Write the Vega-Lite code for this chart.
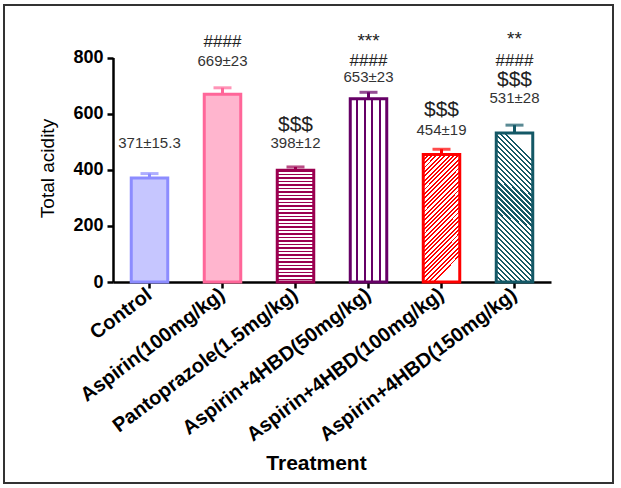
{
  "$schema": "https://vega.github.io/schema/vega-lite/v6.json",
  "width": 609,
  "height": 478,
  "autosize": {"type": "none"},
  "padding": {"left": 4, "top": 5, "right": 8, "bottom": 5},
  "background": "white",
  "config": {
    "view": {"stroke": "#333333", "strokeWidth": 2},
    "font": "Liberation Sans",
    "axis": {
      "grid": false,
      "domainColor": "black",
      "domainWidth": 2.5,
      "tickColor": "black",
      "tickWidth": 2.5,
      "tickSize": 6,
      "labelColor": "black",
      "titleColor": "black",
      "labelFont": "Liberation Sans",
      "titleFont": "Liberation Sans"
    },
    "axisY": {
      "offset": -109,
      "tickCount": 4,
      "labelFontSize": 18,
      "labelFontWeight": "bold",
      "labelPadding": 4,
      "titleFontSize": 19,
      "titleFontWeight": "normal",
      "titleX": -66,
      "titleY": 163,
      "titleAlign": "center",
      "titleBaseline": "middle",
      "titleAngle": -90
    },
    "axisX": {
      "offset": -201,
      "labelFontSize": 20,
      "labelFontWeight": "bold",
      "labelAngle": -37,
      "labelAlign": "right",
      "labelBaseline": "middle",
      "labelPadding": 4,
      "labelLimit": 400,
      "labelOverlap": false,
      "titleFontSize": 21,
      "titleFontWeight": "bold",
      "titleX": 312,
      "titleY": 181,
      "titleAlign": "center",
      "titleBaseline": "middle"
    }
  },
  "datasets": {
    "main": [
      {"t": "Control", "mean": 371, "sem": 15.3},
      {"t": "Aspirin(100mg/kg)", "mean": 669, "sem": 23},
      {"t": "Pantoprazole(1.5mg/kg)", "mean": 398, "sem": 12},
      {"t": "Aspirin+4HBD(50mg/kg)", "mean": 653, "sem": 23},
      {"t": "Aspirin+4HBD(100mg/kg)", "mean": 454, "sem": 19},
      {"t": "Aspirin+4HBD(150mg/kg)", "mean": 531, "sem": 28}
    ],
    "ann": [
      {"t": "Control", "text": "371±15.3", "kind": "val", "v": 495},
      {"t": "Aspirin(100mg/kg)", "text": "####", "kind": "hash", "v": 855},
      {"t": "Aspirin(100mg/kg)", "text": "669±23", "kind": "val", "v": 789},
      {"t": "Pantoprazole(1.5mg/kg)", "text": "$$$", "kind": "dollar", "v": 561},
      {"t": "Pantoprazole(1.5mg/kg)", "text": "398±12", "kind": "val", "v": 495},
      {"t": "Aspirin+4HBD(50mg/kg)", "text": "***", "kind": "star", "v": 860},
      {"t": "Aspirin+4HBD(50mg/kg)", "text": "####", "kind": "hash", "v": 787},
      {"t": "Aspirin+4HBD(50mg/kg)", "text": "653±23", "kind": "val", "v": 729},
      {"t": "Aspirin+4HBD(100mg/kg)", "text": "$$$", "kind": "dollar", "v": 613},
      {"t": "Aspirin+4HBD(100mg/kg)", "text": "454±19", "kind": "val", "v": 543},
      {"t": "Aspirin+4HBD(150mg/kg)", "text": "**", "kind": "star", "v": 865},
      {"t": "Aspirin+4HBD(150mg/kg)", "text": "####", "kind": "hash", "v": 787},
      {"t": "Aspirin+4HBD(150mg/kg)", "text": "$$$", "kind": "dollar", "v": 720},
      {"t": "Aspirin+4HBD(150mg/kg)", "text": "531±28", "kind": "val", "v": 656}
    ]
  },
  "data": {"name": "main"},
  "encoding": {
    "x": {
      "field": "t",
      "type": "nominal",
      "title": "Treatment",
      "sort": null,
      "scale": {
        "domain": ["Control", "Aspirin(100mg/kg)", "Pantoprazole(1.5mg/kg)", "Aspirin+4HBD(50mg/kg)", "Aspirin+4HBD(100mg/kg)", "Aspirin+4HBD(150mg/kg)"],
        "range": [109, 547],
        "paddingInner": 0.5,
        "paddingOuter": 0.25
      }
    }
  },
  "layer": [
    {
      "mark": {"type": "errorbar", "thickness": 3, "ticks": {"size": 18}},
      "encoding": {
        "y": {"field": "mean", "type": "quantitative", "title": "Total acidity", "scale": {"domain": [0, 800], "range": [277, 52.5], "nice": false, "zero": true}},
        "yError": {"field": "sem"},
        "color": {
          "field": "t",
          "type": "nominal",
          "legend": null,
          "scale": {
            "domain": ["Control", "Aspirin(100mg/kg)", "Pantoprazole(1.5mg/kg)", "Aspirin+4HBD(50mg/kg)", "Aspirin+4HBD(100mg/kg)", "Aspirin+4HBD(150mg/kg)"],
            "range": ["#8C8CFF", "#FF6699", "#9B0050", "#660066", "#FF0000", "#145866"]
          }
        }
      }
    },
    {
      "mark": {"type": "bar", "strokeWidth": 3},
      "encoding": {
        "y": {"field": "mean", "type": "quantitative", "title": "Total acidity", "scale": {"domain": [0, 800], "range": [277, 52.5], "nice": false, "zero": true}},
        "stroke": {
          "field": "t",
          "type": "nominal",
          "legend": null,
          "scale": {
            "domain": ["Control", "Aspirin(100mg/kg)", "Pantoprazole(1.5mg/kg)", "Aspirin+4HBD(50mg/kg)", "Aspirin+4HBD(100mg/kg)", "Aspirin+4HBD(150mg/kg)"],
            "range": ["#8C8CFF", "#FF6699", "#9B0050", "#660066", "#FF0000", "#145866"]
          }
        },
        "fill": {
          "condition": [
            {"test": "datum.t === 'Control'", "value": "#C6C6FF"},
            {"test": "datum.t === 'Aspirin(100mg/kg)'", "value": "#FFB5CE"},
            {"test": "datum.t === 'Pantoprazole(1.5mg/kg)'", "value": {"gradient": "linear", "x1": 0, "y1": 0, "x2": 0, "y2": 1, "stops": [
              {"offset": 0, "color": "#9B0050"}, {"offset": 0.014, "color": "#9B0050"}, {"offset": 0.014, "color": "#ffffff"}, {"offset": 0.03125, "color": "#ffffff"},
              {"offset": 0.03125, "color": "#9B0050"}, {"offset": 0.04525, "color": "#9B0050"}, {"offset": 0.04525, "color": "#ffffff"}, {"offset": 0.0625, "color": "#ffffff"},
              {"offset": 0.0625, "color": "#9B0050"}, {"offset": 0.0765, "color": "#9B0050"}, {"offset": 0.0765, "color": "#ffffff"}, {"offset": 0.09375, "color": "#ffffff"},
              {"offset": 0.09375, "color": "#9B0050"}, {"offset": 0.10775, "color": "#9B0050"}, {"offset": 0.10775, "color": "#ffffff"}, {"offset": 0.125, "color": "#ffffff"},
              {"offset": 0.125, "color": "#9B0050"}, {"offset": 0.139, "color": "#9B0050"}, {"offset": 0.139, "color": "#ffffff"}, {"offset": 0.15625, "color": "#ffffff"},
              {"offset": 0.15625, "color": "#9B0050"}, {"offset": 0.17025, "color": "#9B0050"}, {"offset": 0.17025, "color": "#ffffff"}, {"offset": 0.1875, "color": "#ffffff"},
              {"offset": 0.1875, "color": "#9B0050"}, {"offset": 0.2015, "color": "#9B0050"}, {"offset": 0.2015, "color": "#ffffff"}, {"offset": 0.21875, "color": "#ffffff"},
              {"offset": 0.21875, "color": "#9B0050"}, {"offset": 0.23275, "color": "#9B0050"}, {"offset": 0.23275, "color": "#ffffff"}, {"offset": 0.25, "color": "#ffffff"},
              {"offset": 0.25, "color": "#9B0050"}, {"offset": 0.264, "color": "#9B0050"}, {"offset": 0.264, "color": "#ffffff"}, {"offset": 0.28125, "color": "#ffffff"},
              {"offset": 0.28125, "color": "#9B0050"}, {"offset": 0.29525, "color": "#9B0050"}, {"offset": 0.29525, "color": "#ffffff"}, {"offset": 0.3125, "color": "#ffffff"},
              {"offset": 0.3125, "color": "#9B0050"}, {"offset": 0.3265, "color": "#9B0050"}, {"offset": 0.3265, "color": "#ffffff"}, {"offset": 0.34375, "color": "#ffffff"},
              {"offset": 0.34375, "color": "#9B0050"}, {"offset": 0.35775, "color": "#9B0050"}, {"offset": 0.35775, "color": "#ffffff"}, {"offset": 0.375, "color": "#ffffff"},
              {"offset": 0.375, "color": "#9B0050"}, {"offset": 0.389, "color": "#9B0050"}, {"offset": 0.389, "color": "#ffffff"}, {"offset": 0.40625, "color": "#ffffff"},
              {"offset": 0.40625, "color": "#9B0050"}, {"offset": 0.42025, "color": "#9B0050"}, {"offset": 0.42025, "color": "#ffffff"}, {"offset": 0.4375, "color": "#ffffff"},
              {"offset": 0.4375, "color": "#9B0050"}, {"offset": 0.4515, "color": "#9B0050"}, {"offset": 0.4515, "color": "#ffffff"}, {"offset": 0.46875, "color": "#ffffff"},
              {"offset": 0.46875, "color": "#9B0050"}, {"offset": 0.48275, "color": "#9B0050"}, {"offset": 0.48275, "color": "#ffffff"}, {"offset": 0.5, "color": "#ffffff"},
              {"offset": 0.5, "color": "#9B0050"}, {"offset": 0.514, "color": "#9B0050"}, {"offset": 0.514, "color": "#ffffff"}, {"offset": 0.53125, "color": "#ffffff"},
              {"offset": 0.53125, "color": "#9B0050"}, {"offset": 0.54525, "color": "#9B0050"}, {"offset": 0.54525, "color": "#ffffff"}, {"offset": 0.5625, "color": "#ffffff"},
              {"offset": 0.5625, "color": "#9B0050"}, {"offset": 0.5765, "color": "#9B0050"}, {"offset": 0.5765, "color": "#ffffff"}, {"offset": 0.59375, "color": "#ffffff"},
              {"offset": 0.59375, "color": "#9B0050"}, {"offset": 0.60775, "color": "#9B0050"}, {"offset": 0.60775, "color": "#ffffff"}, {"offset": 0.625, "color": "#ffffff"},
              {"offset": 0.625, "color": "#9B0050"}, {"offset": 0.639, "color": "#9B0050"}, {"offset": 0.639, "color": "#ffffff"}, {"offset": 0.65625, "color": "#ffffff"},
              {"offset": 0.65625, "color": "#9B0050"}, {"offset": 0.67025, "color": "#9B0050"}, {"offset": 0.67025, "color": "#ffffff"}, {"offset": 0.6875, "color": "#ffffff"},
              {"offset": 0.6875, "color": "#9B0050"}, {"offset": 0.7015, "color": "#9B0050"}, {"offset": 0.7015, "color": "#ffffff"}, {"offset": 0.71875, "color": "#ffffff"},
              {"offset": 0.71875, "color": "#9B0050"}, {"offset": 0.73275, "color": "#9B0050"}, {"offset": 0.73275, "color": "#ffffff"}, {"offset": 0.75, "color": "#ffffff"},
              {"offset": 0.75, "color": "#9B0050"}, {"offset": 0.764, "color": "#9B0050"}, {"offset": 0.764, "color": "#ffffff"}, {"offset": 0.78125, "color": "#ffffff"},
              {"offset": 0.78125, "color": "#9B0050"}, {"offset": 0.79525, "color": "#9B0050"}, {"offset": 0.79525, "color": "#ffffff"}, {"offset": 0.8125, "color": "#ffffff"},
              {"offset": 0.8125, "color": "#9B0050"}, {"offset": 0.8265, "color": "#9B0050"}, {"offset": 0.8265, "color": "#ffffff"}, {"offset": 0.84375, "color": "#ffffff"},
              {"offset": 0.84375, "color": "#9B0050"}, {"offset": 0.85775, "color": "#9B0050"}, {"offset": 0.85775, "color": "#ffffff"}, {"offset": 0.875, "color": "#ffffff"},
              {"offset": 0.875, "color": "#9B0050"}, {"offset": 0.889, "color": "#9B0050"}, {"offset": 0.889, "color": "#ffffff"}, {"offset": 0.90625, "color": "#ffffff"},
              {"offset": 0.90625, "color": "#9B0050"}, {"offset": 0.92025, "color": "#9B0050"}, {"offset": 0.92025, "color": "#ffffff"}, {"offset": 0.9375, "color": "#ffffff"},
              {"offset": 0.9375, "color": "#9B0050"}, {"offset": 0.9515, "color": "#9B0050"}, {"offset": 0.9515, "color": "#ffffff"}, {"offset": 0.96875, "color": "#ffffff"},
              {"offset": 0.96875, "color": "#9B0050"}, {"offset": 0.98275, "color": "#9B0050"}, {"offset": 0.98275, "color": "#ffffff"}, {"offset": 1, "color": "#ffffff"}
            ]}},
            {"test": "datum.t === 'Aspirin+4HBD(50mg/kg)'", "value": {"gradient": "linear", "x1": 0, "y1": 0, "x2": 1, "y2": 0, "stops": [
              {"offset": 0, "color": "#ffffff"}, {"offset": 0.17, "color": "#ffffff"}, {"offset": 0.17, "color": "#660066"}, {"offset": 0.215, "color": "#660066"}, {"offset": 0.215, "color": "#ffffff"},
              {"offset": 0.375, "color": "#ffffff"}, {"offset": 0.375, "color": "#660066"}, {"offset": 0.42, "color": "#660066"}, {"offset": 0.42, "color": "#ffffff"},
              {"offset": 0.58, "color": "#ffffff"}, {"offset": 0.58, "color": "#660066"}, {"offset": 0.625, "color": "#660066"}, {"offset": 0.625, "color": "#ffffff"},
              {"offset": 0.785, "color": "#ffffff"}, {"offset": 0.785, "color": "#660066"}, {"offset": 0.83, "color": "#660066"}, {"offset": 0.83, "color": "#ffffff"}, {"offset": 1, "color": "#ffffff"}
            ]}},
            {"test": "datum.t === 'Aspirin+4HBD(100mg/kg)'", "value": {"gradient": "linear", "x1": 0, "y1": 0, "x2": 0.294, "y2": 1.02, "stops": [
              {"offset": 0, "color": "#FF0000"}, {"offset": 0.014, "color": "#FF0000"}, {"offset": 0.014, "color": "#ffffff"}, {"offset": 0.03125, "color": "#ffffff"},
              {"offset": 0.03125, "color": "#FF0000"}, {"offset": 0.04525, "color": "#FF0000"}, {"offset": 0.04525, "color": "#ffffff"}, {"offset": 0.0625, "color": "#ffffff"},
              {"offset": 0.0625, "color": "#FF0000"}, {"offset": 0.0765, "color": "#FF0000"}, {"offset": 0.0765, "color": "#ffffff"}, {"offset": 0.09375, "color": "#ffffff"},
              {"offset": 0.09375, "color": "#FF0000"}, {"offset": 0.10775, "color": "#FF0000"}, {"offset": 0.10775, "color": "#ffffff"}, {"offset": 0.125, "color": "#ffffff"},
              {"offset": 0.125, "color": "#FF0000"}, {"offset": 0.139, "color": "#FF0000"}, {"offset": 0.139, "color": "#ffffff"}, {"offset": 0.15625, "color": "#ffffff"},
              {"offset": 0.15625, "color": "#FF0000"}, {"offset": 0.17025, "color": "#FF0000"}, {"offset": 0.17025, "color": "#ffffff"}, {"offset": 0.1875, "color": "#ffffff"},
              {"offset": 0.1875, "color": "#FF0000"}, {"offset": 0.2015, "color": "#FF0000"}, {"offset": 0.2015, "color": "#ffffff"}, {"offset": 0.21875, "color": "#ffffff"},
              {"offset": 0.21875, "color": "#FF0000"}, {"offset": 0.23275, "color": "#FF0000"}, {"offset": 0.23275, "color": "#ffffff"}, {"offset": 0.25, "color": "#ffffff"},
              {"offset": 0.25, "color": "#FF0000"}, {"offset": 0.264, "color": "#FF0000"}, {"offset": 0.264, "color": "#ffffff"}, {"offset": 0.28125, "color": "#ffffff"},
              {"offset": 0.28125, "color": "#FF0000"}, {"offset": 0.29525, "color": "#FF0000"}, {"offset": 0.29525, "color": "#ffffff"}, {"offset": 0.3125, "color": "#ffffff"},
              {"offset": 0.3125, "color": "#FF0000"}, {"offset": 0.3265, "color": "#FF0000"}, {"offset": 0.3265, "color": "#ffffff"}, {"offset": 0.34375, "color": "#ffffff"},
              {"offset": 0.34375, "color": "#FF0000"}, {"offset": 0.35775, "color": "#FF0000"}, {"offset": 0.35775, "color": "#ffffff"}, {"offset": 0.375, "color": "#ffffff"},
              {"offset": 0.375, "color": "#FF0000"}, {"offset": 0.389, "color": "#FF0000"}, {"offset": 0.389, "color": "#ffffff"}, {"offset": 0.40625, "color": "#ffffff"},
              {"offset": 0.40625, "color": "#FF0000"}, {"offset": 0.42025, "color": "#FF0000"}, {"offset": 0.42025, "color": "#ffffff"}, {"offset": 0.4375, "color": "#ffffff"},
              {"offset": 0.4375, "color": "#FF0000"}, {"offset": 0.4515, "color": "#FF0000"}, {"offset": 0.4515, "color": "#ffffff"}, {"offset": 0.46875, "color": "#ffffff"},
              {"offset": 0.46875, "color": "#FF0000"}, {"offset": 0.48275, "color": "#FF0000"}, {"offset": 0.48275, "color": "#ffffff"}, {"offset": 0.5, "color": "#ffffff"},
              {"offset": 0.5, "color": "#FF0000"}, {"offset": 0.514, "color": "#FF0000"}, {"offset": 0.514, "color": "#ffffff"}, {"offset": 0.53125, "color": "#ffffff"},
              {"offset": 0.53125, "color": "#FF0000"}, {"offset": 0.54525, "color": "#FF0000"}, {"offset": 0.54525, "color": "#ffffff"}, {"offset": 0.5625, "color": "#ffffff"},
              {"offset": 0.5625, "color": "#FF0000"}, {"offset": 0.5765, "color": "#FF0000"}, {"offset": 0.5765, "color": "#ffffff"}, {"offset": 0.59375, "color": "#ffffff"},
              {"offset": 0.59375, "color": "#FF0000"}, {"offset": 0.60775, "color": "#FF0000"}, {"offset": 0.60775, "color": "#ffffff"}, {"offset": 0.625, "color": "#ffffff"},
              {"offset": 0.625, "color": "#FF0000"}, {"offset": 0.639, "color": "#FF0000"}, {"offset": 0.639, "color": "#ffffff"}, {"offset": 0.65625, "color": "#ffffff"},
              {"offset": 0.65625, "color": "#FF0000"}, {"offset": 0.67025, "color": "#FF0000"}, {"offset": 0.67025, "color": "#ffffff"}, {"offset": 0.6875, "color": "#ffffff"},
              {"offset": 0.6875, "color": "#FF0000"}, {"offset": 0.7015, "color": "#FF0000"}, {"offset": 0.7015, "color": "#ffffff"}, {"offset": 0.71875, "color": "#ffffff"},
              {"offset": 0.71875, "color": "#FF0000"}, {"offset": 0.73275, "color": "#FF0000"}, {"offset": 0.73275, "color": "#ffffff"}, {"offset": 0.75, "color": "#ffffff"},
              {"offset": 0.75, "color": "#FF0000"}, {"offset": 0.764, "color": "#FF0000"}, {"offset": 0.764, "color": "#ffffff"}, {"offset": 0.78125, "color": "#ffffff"},
              {"offset": 0.78125, "color": "#FF0000"}, {"offset": 0.79525, "color": "#FF0000"}, {"offset": 0.79525, "color": "#ffffff"}, {"offset": 0.8125, "color": "#ffffff"},
              {"offset": 0.8125, "color": "#FF0000"}, {"offset": 0.8265, "color": "#FF0000"}, {"offset": 0.8265, "color": "#ffffff"}, {"offset": 0.84375, "color": "#ffffff"},
              {"offset": 0.84375, "color": "#FF0000"}, {"offset": 0.85775, "color": "#FF0000"}, {"offset": 0.85775, "color": "#ffffff"}, {"offset": 0.875, "color": "#ffffff"},
              {"offset": 0.875, "color": "#FF0000"}, {"offset": 0.889, "color": "#FF0000"}, {"offset": 0.889, "color": "#ffffff"}, {"offset": 0.90625, "color": "#ffffff"},
              {"offset": 0.90625, "color": "#FF0000"}, {"offset": 0.92025, "color": "#FF0000"}, {"offset": 0.92025, "color": "#ffffff"}, {"offset": 0.9375, "color": "#ffffff"},
              {"offset": 0.9375, "color": "#FF0000"}, {"offset": 0.9515, "color": "#FF0000"}, {"offset": 0.9515, "color": "#ffffff"}, {"offset": 0.96875, "color": "#ffffff"},
              {"offset": 0.96875, "color": "#FF0000"}, {"offset": 0.98275, "color": "#FF0000"}, {"offset": 0.98275, "color": "#ffffff"}, {"offset": 1, "color": "#ffffff"}
            ]}},
            {"test": "datum.t === 'Aspirin+4HBD(150mg/kg)'", "value": {"gradient": "linear", "x1": 0, "y1": 1, "x2": 0.251, "y2": -0.02, "stops": [
              {"offset": 0, "color": "#145866"}, {"offset": 0.014, "color": "#145866"}, {"offset": 0.014, "color": "#ffffff"}, {"offset": 0.03125, "color": "#ffffff"},
              {"offset": 0.03125, "color": "#145866"}, {"offset": 0.04525, "color": "#145866"}, {"offset": 0.04525, "color": "#ffffff"}, {"offset": 0.0625, "color": "#ffffff"},
              {"offset": 0.0625, "color": "#145866"}, {"offset": 0.0765, "color": "#145866"}, {"offset": 0.0765, "color": "#ffffff"}, {"offset": 0.09375, "color": "#ffffff"},
              {"offset": 0.09375, "color": "#145866"}, {"offset": 0.10775, "color": "#145866"}, {"offset": 0.10775, "color": "#ffffff"}, {"offset": 0.125, "color": "#ffffff"},
              {"offset": 0.125, "color": "#145866"}, {"offset": 0.139, "color": "#145866"}, {"offset": 0.139, "color": "#ffffff"}, {"offset": 0.15625, "color": "#ffffff"},
              {"offset": 0.15625, "color": "#145866"}, {"offset": 0.17025, "color": "#145866"}, {"offset": 0.17025, "color": "#ffffff"}, {"offset": 0.1875, "color": "#ffffff"},
              {"offset": 0.1875, "color": "#145866"}, {"offset": 0.2015, "color": "#145866"}, {"offset": 0.2015, "color": "#ffffff"}, {"offset": 0.21875, "color": "#ffffff"},
              {"offset": 0.21875, "color": "#145866"}, {"offset": 0.23275, "color": "#145866"}, {"offset": 0.23275, "color": "#ffffff"}, {"offset": 0.25, "color": "#ffffff"},
              {"offset": 0.25, "color": "#145866"}, {"offset": 0.264, "color": "#145866"}, {"offset": 0.264, "color": "#ffffff"}, {"offset": 0.28125, "color": "#ffffff"},
              {"offset": 0.28125, "color": "#145866"}, {"offset": 0.29525, "color": "#145866"}, {"offset": 0.29525, "color": "#ffffff"}, {"offset": 0.3125, "color": "#ffffff"},
              {"offset": 0.3125, "color": "#145866"}, {"offset": 0.3265, "color": "#145866"}, {"offset": 0.3265, "color": "#ffffff"}, {"offset": 0.34375, "color": "#ffffff"},
              {"offset": 0.34375, "color": "#145866"}, {"offset": 0.35775, "color": "#145866"}, {"offset": 0.35775, "color": "#ffffff"}, {"offset": 0.375, "color": "#ffffff"},
              {"offset": 0.375, "color": "#145866"}, {"offset": 0.389, "color": "#145866"}, {"offset": 0.389, "color": "#ffffff"}, {"offset": 0.40625, "color": "#ffffff"},
              {"offset": 0.40625, "color": "#145866"}, {"offset": 0.42025, "color": "#145866"}, {"offset": 0.42025, "color": "#ffffff"}, {"offset": 0.4375, "color": "#ffffff"},
              {"offset": 0.4375, "color": "#145866"}, {"offset": 0.4515, "color": "#145866"}, {"offset": 0.4515, "color": "#ffffff"}, {"offset": 0.46875, "color": "#ffffff"},
              {"offset": 0.46875, "color": "#145866"}, {"offset": 0.48275, "color": "#145866"}, {"offset": 0.48275, "color": "#ffffff"}, {"offset": 0.5, "color": "#ffffff"},
              {"offset": 0.5, "color": "#145866"}, {"offset": 0.514, "color": "#145866"}, {"offset": 0.514, "color": "#ffffff"}, {"offset": 0.53125, "color": "#ffffff"},
              {"offset": 0.53125, "color": "#145866"}, {"offset": 0.54525, "color": "#145866"}, {"offset": 0.54525, "color": "#ffffff"}, {"offset": 0.5625, "color": "#ffffff"},
              {"offset": 0.5625, "color": "#145866"}, {"offset": 0.5765, "color": "#145866"}, {"offset": 0.5765, "color": "#ffffff"}, {"offset": 0.59375, "color": "#ffffff"},
              {"offset": 0.59375, "color": "#145866"}, {"offset": 0.60775, "color": "#145866"}, {"offset": 0.60775, "color": "#ffffff"}, {"offset": 0.625, "color": "#ffffff"},
              {"offset": 0.625, "color": "#145866"}, {"offset": 0.639, "color": "#145866"}, {"offset": 0.639, "color": "#ffffff"}, {"offset": 0.65625, "color": "#ffffff"},
              {"offset": 0.65625, "color": "#145866"}, {"offset": 0.67025, "color": "#145866"}, {"offset": 0.67025, "color": "#ffffff"}, {"offset": 0.6875, "color": "#ffffff"},
              {"offset": 0.6875, "color": "#145866"}, {"offset": 0.7015, "color": "#145866"}, {"offset": 0.7015, "color": "#ffffff"}, {"offset": 0.71875, "color": "#ffffff"},
              {"offset": 0.71875, "color": "#145866"}, {"offset": 0.73275, "color": "#145866"}, {"offset": 0.73275, "color": "#ffffff"}, {"offset": 0.75, "color": "#ffffff"},
              {"offset": 0.75, "color": "#145866"}, {"offset": 0.764, "color": "#145866"}, {"offset": 0.764, "color": "#ffffff"}, {"offset": 0.78125, "color": "#ffffff"},
              {"offset": 0.78125, "color": "#145866"}, {"offset": 0.79525, "color": "#145866"}, {"offset": 0.79525, "color": "#ffffff"}, {"offset": 0.8125, "color": "#ffffff"},
              {"offset": 0.8125, "color": "#145866"}, {"offset": 0.8265, "color": "#145866"}, {"offset": 0.8265, "color": "#ffffff"}, {"offset": 0.84375, "color": "#ffffff"},
              {"offset": 0.84375, "color": "#145866"}, {"offset": 0.85775, "color": "#145866"}, {"offset": 0.85775, "color": "#ffffff"}, {"offset": 0.875, "color": "#ffffff"},
              {"offset": 0.875, "color": "#145866"}, {"offset": 0.889, "color": "#145866"}, {"offset": 0.889, "color": "#ffffff"}, {"offset": 0.90625, "color": "#ffffff"},
              {"offset": 0.90625, "color": "#145866"}, {"offset": 0.92025, "color": "#145866"}, {"offset": 0.92025, "color": "#ffffff"}, {"offset": 0.9375, "color": "#ffffff"},
              {"offset": 0.9375, "color": "#145866"}, {"offset": 0.9515, "color": "#145866"}, {"offset": 0.9515, "color": "#ffffff"}, {"offset": 0.96875, "color": "#ffffff"},
              {"offset": 0.96875, "color": "#145866"}, {"offset": 0.98275, "color": "#145866"}, {"offset": 0.98275, "color": "#ffffff"}, {"offset": 1, "color": "#ffffff"}
            ]}}
          ],
          "value": "#ffffff"
        }
      }
    },
    {
      "data": {"name": "ann"},
      "transform": [{"filter": "datum.kind === 'val'"}],
      "mark": {"type": "text", "fontSize": 15, "color": "#333333", "baseline": "middle", "font": "Liberation Sans"},
      "encoding": {
        "y": {"field": "v", "type": "quantitative", "title": "Total acidity", "scale": {"domain": [0, 800], "range": [277, 52.5], "nice": false, "zero": true}},
        "text": {"field": "text"}
      }
    },
    {
      "data": {"name": "ann"},
      "transform": [{"filter": "datum.kind === 'dollar'"}],
      "mark": {"type": "text", "fontSize": 21, "color": "#222222", "baseline": "middle", "font": "Liberation Sans"},
      "encoding": {
        "y": {"field": "v", "type": "quantitative", "title": "Total acidity", "scale": {"domain": [0, 800], "range": [277, 52.5], "nice": false, "zero": true}},
        "text": {"field": "text"}
      }
    },
    {
      "data": {"name": "ann"},
      "transform": [{"filter": "datum.kind === 'hash'"}],
      "mark": {"type": "text", "fontSize": 17, "color": "#222222", "baseline": "middle", "font": "Liberation Sans"},
      "encoding": {
        "y": {"field": "v", "type": "quantitative", "title": "Total acidity", "scale": {"domain": [0, 800], "range": [277, 52.5], "nice": false, "zero": true}},
        "text": {"field": "text"}
      }
    },
    {
      "data": {"name": "ann"},
      "transform": [{"filter": "datum.kind === 'star'"}],
      "mark": {"type": "text", "fontSize": 19, "color": "#222222", "baseline": "middle", "font": "Liberation Sans"},
      "encoding": {
        "y": {"field": "v", "type": "quantitative", "title": "Total acidity", "scale": {"domain": [0, 800], "range": [277, 52.5], "nice": false, "zero": true}},
        "text": {"field": "text"}
      }
    }
  ]
}
